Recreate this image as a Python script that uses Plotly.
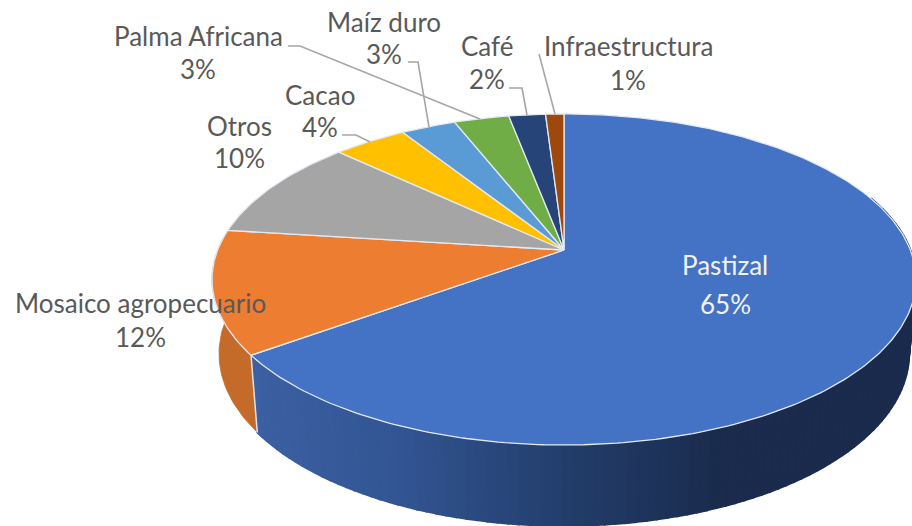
import math
import plotly.graph_objects as go

categories = ["Pastizal", "Mosaico agropecuario", "Otros", "Cacao", "Maíz duro",
              "Palma Africana", "Café", "Infraestructura"]
values = [65, 12, 10, 4, 3, 3, 2, 1]
colors = ["#4472C4", "#ED7D31", "#A5A5A5", "#FFC000", "#5B9BD5", "#70AD47", "#264478", "#9E480E"]
label_centers = [(725, 265), (140, 303), (239, 126), (320, 95), (384, 22), (198, 36), (487, 46), (628, 46)]
label_gap = [39, 34, 32, 32, 32, 33, 33, 34]

CX, CY, A, B, K = 564, 250, 346.4, 160.3, 0.178
CY2, SX2, SY2 = 323, 0.98, 1.04
FONT = "Lato"
FSIZE = 26


def top(t):
    u, v = math.sin(t), math.cos(t)
    w = 1 + K * v
    return CX + A * u / w, CY - B * v / w


def bottom(t):
    u, v = math.sin(t), math.cos(t)
    w = 1 + K * v
    return CX + SX2 * A * u / w, CY2 - SY2 * B * v / w


def lerp(c1, c2, f):
    return tuple(round(a + (b - a) * f) for a, b in zip(c1, c2))


def blue_side(x):
    stops = [(250, (60, 96, 162)), (400, (50, 84, 146)), (560, (35, 62, 108)),
             (720, (26, 43, 77)), (912, (26, 43, 77))]
    for (x0, c0), (x1, c1) in zip(stops, stops[1:]):
        if x <= x1:
            return lerp(c0, c1, max(0, (x - x0) / (x1 - x0)))
    return stops[-1][1]


fig = go.Figure()


def poly(xs, ys, fill, line=None, width=0.8):
    fig.add_trace(go.Scatter(x=xs, y=ys, mode="lines", fill="toself", fillcolor=fill,
                             line=dict(color=line or fill, width=width), hoverinfo="skip"))


total = sum(values)
bounds = [0]
for val in values:
    bounds.append(bounds[-1] + val / total * 2 * math.pi)

# side wall of the Pastizal slice, as thin shaded strips
start, end = math.radians(70), bounds[1]
N = 110
for i in range(N):
    t0 = start + (end - start) * i / N
    t1 = start + (end - start) * (i + 1) / N
    p0, p1, q1, q0 = top(t0), top(t1), bottom(t1), bottom(t0)
    col = "rgb(%d,%d,%d)" % blue_side((p0[0] + p1[0]) / 2)
    poly([p0[0], p1[0], q1[0], q0[0], p0[0]], [p0[1], p1[1], q1[1], q0[1], p0[1]], col, width=2)

# side wall of the Mosaico slice
ts = [bounds[1] + (bounds[2] - bounds[1]) * i / 40 for i in range(41)]
pts = [top(t) for t in ts] + [bottom(t) for t in reversed(ts)]
poly([p[0] for p in pts] + [pts[0][0]], [p[1] for p in pts] + [pts[0][1]], "#C56B29")

# light seam between the two side walls
seam_a, seam_b = top(bounds[1]), bottom(bounds[1])
fig.add_trace(go.Scatter(x=[seam_a[0], seam_b[0]], y=[seam_a[1], seam_b[1]], mode="lines",
                         line=dict(color="#DCE3EE", width=1.5), hoverinfo="skip"))

# top faces
for i, col in enumerate(colors):
    n = max(8, int(values[i] * 4))
    arc = [top(bounds[i] + (bounds[i + 1] - bounds[i]) * j / n) for j in range(n + 1)]
    xs = [CX] + [p[0] for p in arc] + [CX]
    ys = [CY] + [p[1] for p in arc] + [CY]
    poly(xs, ys, col, line="#E4E9F2", width=1.3)

# leader lines
leaders = {
    "Palma Africana": [(288, 46), (300, 46), (480, 119)],
    "Maíz duro": [(408, 62), (418, 62), (429, 127)],
    "Café": [(509, 88), (522, 88), (527, 115)],
    "Infraestructura": [(539, 54), (555, 114)],
    "Cacao": [(342, 135), (356, 135), (370, 142)],
}
for pts in leaders.values():
    fig.add_trace(go.Scatter(x=[p[0] for p in pts], y=[p[1] for p in pts], mode="lines",
                             line=dict(color="#A6A6A6", width=1.6), hoverinfo="skip"))

# labels
for name, val, (x, y), gap in zip(categories, values, label_centers, label_gap):
    color = "#F2F2F2" if name == "Pastizal" else "#595959"
    fig.add_annotation(x=x, y=y, text=name, showarrow=False, xref="x", yref="y",
                       font=dict(family=FONT, size=FSIZE, color=color))
    fig.add_annotation(x=x, y=y + gap, text=f"{val}%", showarrow=False, xref="x", yref="y",
                       font=dict(family=FONT, size=FSIZE, color=color))

fig.update_layout(
    width=912, height=526, margin=dict(l=0, r=0, t=0, b=0),
    paper_bgcolor="white", plot_bgcolor="white", showlegend=False,
    xaxis=dict(range=[0, 912], visible=False, fixedrange=True),
    yaxis=dict(range=[526, 0], visible=False, fixedrange=True),
)
fig.write_html("out.html", config={"displayModeBar": False},
               post_script="document.body.style.margin='0';document.body.style.overflow='hidden';")
